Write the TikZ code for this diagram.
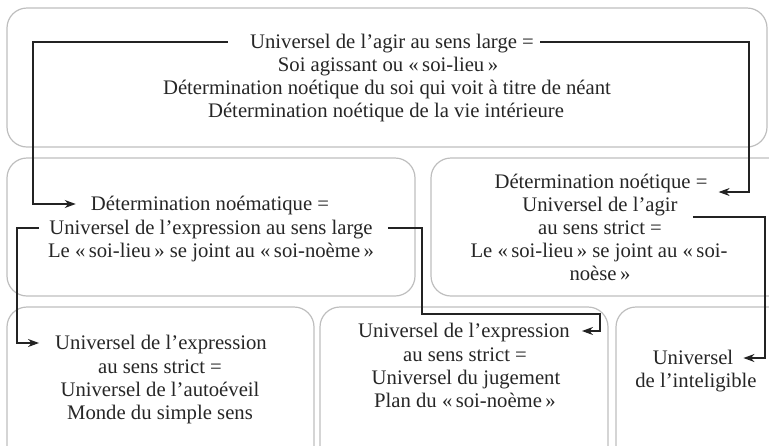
\documentclass[tikz,border=0pt]{standalone}
\usepackage{fontspec}
\setmainfont{Liberation Serif}
\usepackage{xcolor}
\definecolor{boxgray}{RGB}{190,190,190}
\definecolor{linegray}{RGB}{35,35,35}
\usetikzlibrary{arrows.meta,calc}
\begin{document}
\begin{tikzpicture}[x=1pt,y=-1pt,
  box/.style={draw=boxgray, line width=1.2pt, rounded corners=20pt, inner sep=0pt},
  txt/.style={font=\fontsize{20.7}{23}\selectfont, inner sep=0pt, anchor=base, text=black!85},
  conn/.style={draw=linegray, line width=1.1pt},
  arr/.style={conn, -{Stealth[length=11pt,width=8pt,inset=3.5pt]}}]
\useasboundingbox (0,0) rectangle (769,445);
\clip (0,0) rectangle (769,445);
% boxes
\draw[box] (7,8) rectangle (767,147);
\draw[box] (7,158) rectangle (415,296);
\draw[box] (431,158) rectangle (790,296);
\draw[box] (7,307) rectangle (314,470);
\draw[box] (320,307) rectangle (608,470);
\draw[box] (616,307) rectangle (790,470);
% top texts (baselines)
\node[txt] (t1) at (392,48) {Universel de l’agir au sens large =};
\node[txt] (t2) at (388,71) {Soi agissant ou «\,soi-lieu\,»};
\node[txt] (t3) at (387,94) {Détermination noétique du soi qui voit à titre de néant};
\node[txt] (t4) at (386,117) {Détermination noétique de la vie intérieure};
% middle left
\node[txt] (m1) at (210,210) {Détermination noématique =};
\node[txt] (m2) at (211,234) {Universel de l’expression au sens large};
\node[txt] (m3) at (211,257) {Le «\,soi-lieu\,» se joint au «\,soi-noème\,»};
% middle right
\node[txt] (r1) at (601,188) {Détermination noétique =};
\node[txt] (r2) at (600,211) {Universel de l’agir};
\node[txt] (r3) at (600,234) {au sens strict =};
\node[txt] (r4) at (599,257) {Le «\,soi-lieu\,» se joint au «\,soi-};
\node[txt] (r5) at (600,280) {noèse\,»};
% bottom left
\node[txt] (bl1) at (161,349) {Universel de l’expression};
\node[txt] (bl2) at (160,373) {au sens strict =};
\node[txt] (bl3) at (160,396) {Universel de l’autoéveil};
\node[txt] (bl4) at (160,419) {Monde du simple sens};
% bottom middle
\node[txt] (bm1) at (464,337) {Universel de l’expression};
\node[txt] (bm2) at (465,361) {au sens strict =};
\node[txt] (bm3) at (466,384) {Universel du jugement};
\node[txt] (bm4) at (465,407) {Plan du «\,soi-noème\,»};
% bottom right
\node[txt] (br1) at (693,364) {Universel};
\node[txt] (br2) at (696,387) {de l’inteligible};
% connector columns
\coordinate (cA) at (33,0);
\coordinate (cB) at (749,0);
\coordinate (cC) at (17,0);
\coordinate (cD) at (422,0);
\coordinate (cE) at (600,314);
\coordinate (cF) at (765,0);
% connectors
\draw[arr] ($(t1.base west)+(-22,-6)$) -| ($(cA |- m1.base west)+(0,-6)$) -- ($(m1.base west)+(-15,-6)$);
\draw[arr] ($(t1.base east)+(6,-6)$) -| ($(cB |- r1.base east)+(0,4)$) -- ($(r1.base east)+(11,4)$);
\draw[arr] ($(m2.base west)+(-10,-6)$) -| ($(cC |- bl1.base west)+(0,-6)$) -- ($(bl1.base west)+(-16,-6)$);
\draw[arr] ($(m2.base east)+(15,-6)$) -| (cD |- cE) -| ($(cE |- bm1.base east)+(0,-6)$) -- ($(bm1.base east)+(12,-6)$);
\draw[arr] ($(r2.base east)+(15,6)$) -| ($(cF |- br1.base east)+(0,-6)$) -- ($(br1.base east)+(10,-6)$);
\end{tikzpicture}
\end{document}
